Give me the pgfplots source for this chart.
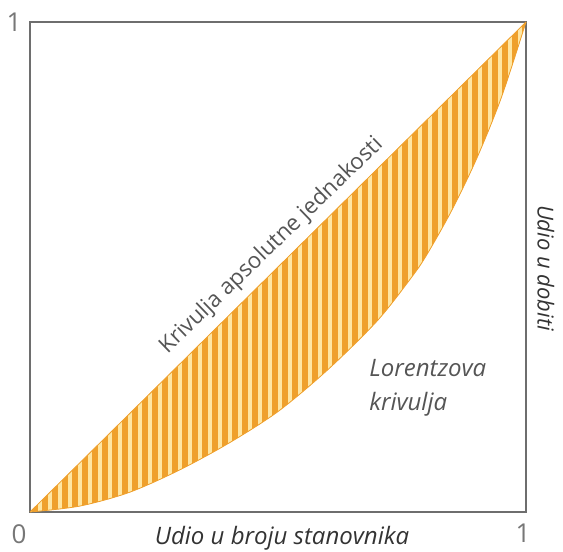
\documentclass[border=0pt]{standalone}
\usepackage{pgfplots}
\pgfplotsset{compat=1.18}
\usepgfplotslibrary{fillbetween}
\usetikzlibrary{patterns.meta}
\usepackage{fontspec}
\setmainfont{Open Sans}
\definecolor{orangeC}{HTML}{EFA02C}
\definecolor{stripeC}{HTML}{FFE6A2}
\definecolor{txtC}{HTML}{555555}
\definecolor{numC}{HTML}{777777}
\definecolor{frameC}{HTML}{6E6E6E}
\begin{document}
\begin{tikzpicture}
\begin{axis}[
  at={(0pt,0pt)}, anchor=south west,
  scale only axis, width=496pt, height=490pt,
  xmin=0, xmax=1, ymin=0, ymax=1,
  xtick=\empty, ytick=\empty,
  axis line style={line width=2.6pt, draw=frameC},
  clip=false,
]
\addplot[name path=A, draw=orangeC, line width=0.8pt] coordinates {(0,0) (1,1)};
\addplot[name path=B, draw=orangeC, line width=0.8pt, smooth] coordinates {
(0,0) (0.1,0.012) (0.2,0.04) (0.3,0.085) (0.4,0.14) (0.5,0.205) (0.6,0.29)
(0.7,0.39) (0.77,0.48) (0.8,0.525) (0.85,0.615) (0.9,0.72) (0.95,0.845) (1,1)};
\addplot[fill=orangeC, draw=none] fill between[of=A and B];
\addplot[draw=none, pattern={Lines[angle=90,distance=10pt,line width=3.2pt]}, pattern color=stripeC] fill between[of=A and B];
\node[text=numC, font=\fontsize{26}{28}\selectfont] at (rel axis cs:-0.032,1.0) {1};
\node[text=numC, font=\fontsize{26}{28}\selectfont] at (rel axis cs:-0.022,-0.045) {0};
\node[text=numC, font=\fontsize{26}{28}\selectfont] at (rel axis cs:0.994,-0.043) {1};
\node[text=black!80, font=\fontsize{24}{26}\selectfont\itshape] at (rel axis cs:0.508,-0.053) {Udio u broju stanovnika};
\node[text=black!80, font=\fontsize{22}{24}\selectfont\itshape, rotate=-90] at (rel axis cs:1.040,0.498) {Udio u dobiti};
\node[text=txtC, font=\fontsize{22.4}{24}\selectfont, rotate=44] at (rel axis cs:0.487,0.543) {Krivulja apsolutne jednakosti};
\node[text=txtC, font=\fontsize{24}{34}\selectfont\itshape, align=left, anchor=west] at (rel axis cs:0.677,0.253) {Lorentzova\\krivulja};
\end{axis}
\pgfresetboundingbox
\path (-30pt,-40pt) rectangle (533pt,512pt);
\end{tikzpicture}
\end{document}
